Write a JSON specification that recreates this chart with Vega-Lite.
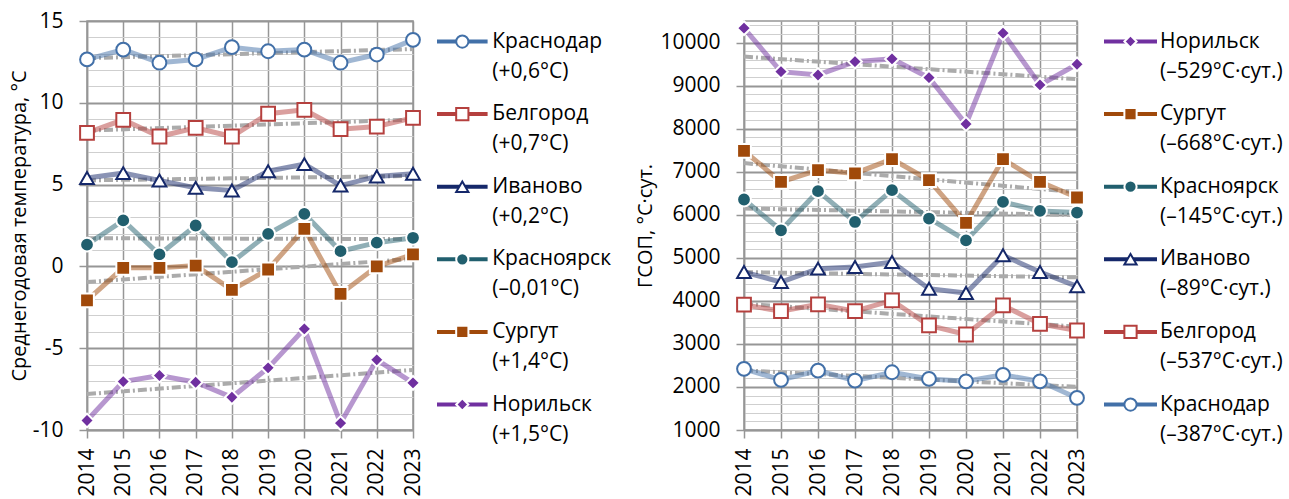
{
  "$schema": "https://vega.github.io/schema/vega-lite/v6.json",
  "padding": {"left": 8, "top": 9, "right": 0, "bottom": 4},
  "autosize": {"type": "pad"},
  "bounds": "flush",
  "spacing": 24,
  "config": {
    "font": "Open Sans",
    "view": {"stroke": "#969696", "strokeWidth": 1.5},
    "axis": {
      "labelFont": "Open Sans",
      "labelFontSize": 21,
      "labelColor": "#000000",
      "titleFont": "Open Sans",
      "titleFontSize": 20,
      "titleFontWeight": "normal",
      "titleColor": "#000000",
      "domainColor": "#969696",
      "domainWidth": 1.5,
      "tickColor": "#969696",
      "tickWidth": 1.5,
      "tickSize": 8
    }
  },
  "datasets": {
    "temp": [
      {"city": "Краснодар", "year": 2014, "value": 12.65}, {"city": "Краснодар", "year": 2015, "value": 13.25},
      {"city": "Краснодар", "year": 2016, "value": 12.45}, {"city": "Краснодар", "year": 2017, "value": 12.65},
      {"city": "Краснодар", "year": 2018, "value": 13.4}, {"city": "Краснодар", "year": 2019, "value": 13.15},
      {"city": "Краснодар", "year": 2020, "value": 13.25}, {"city": "Краснодар", "year": 2021, "value": 12.45},
      {"city": "Краснодар", "year": 2022, "value": 12.95}, {"city": "Краснодар", "year": 2023, "value": 13.85},
      {"city": "Белгород", "year": 2014, "value": 8.16}, {"city": "Белгород", "year": 2015, "value": 8.96},
      {"city": "Белгород", "year": 2016, "value": 7.94}, {"city": "Белгород", "year": 2017, "value": 8.47},
      {"city": "Белгород", "year": 2018, "value": 7.94}, {"city": "Белгород", "year": 2019, "value": 9.33},
      {"city": "Белгород", "year": 2020, "value": 9.57}, {"city": "Белгород", "year": 2021, "value": 8.39},
      {"city": "Белгород", "year": 2022, "value": 8.55}, {"city": "Белгород", "year": 2023, "value": 9.08},
      {"city": "Иваново", "year": 2014, "value": 5.4}, {"city": "Иваново", "year": 2015, "value": 5.7},
      {"city": "Иваново", "year": 2016, "value": 5.25}, {"city": "Иваново", "year": 2017, "value": 4.8},
      {"city": "Иваново", "year": 2018, "value": 4.64}, {"city": "Иваново", "year": 2019, "value": 5.82},
      {"city": "Иваново", "year": 2020, "value": 6.25}, {"city": "Иваново", "year": 2021, "value": 4.94},
      {"city": "Иваново", "year": 2022, "value": 5.5}, {"city": "Иваново", "year": 2023, "value": 5.66},
      {"city": "Красноярск", "year": 2014, "value": 1.33}, {"city": "Красноярск", "year": 2015, "value": 2.81},
      {"city": "Красноярск", "year": 2016, "value": 0.73}, {"city": "Красноярск", "year": 2017, "value": 2.5},
      {"city": "Красноярск", "year": 2018, "value": 0.26}, {"city": "Красноярск", "year": 2019, "value": 1.99},
      {"city": "Красноярск", "year": 2020, "value": 3.21}, {"city": "Красноярск", "year": 2021, "value": 0.93},
      {"city": "Красноярск", "year": 2022, "value": 1.45}, {"city": "Красноярск", "year": 2023, "value": 1.75},
      {"city": "Сургут", "year": 2014, "value": -2.08}, {"city": "Сургут", "year": 2015, "value": -0.09},
      {"city": "Сургут", "year": 2016, "value": -0.09}, {"city": "Сургут", "year": 2017, "value": 0.05},
      {"city": "Сургут", "year": 2018, "value": -1.43}, {"city": "Сургут", "year": 2019, "value": -0.19},
      {"city": "Сургут", "year": 2020, "value": 2.3}, {"city": "Сургут", "year": 2021, "value": -1.68},
      {"city": "Сургут", "year": 2022, "value": 0.0}, {"city": "Сургут", "year": 2023, "value": 0.73},
      {"city": "Норильск", "year": 2014, "value": -9.42}, {"city": "Норильск", "year": 2015, "value": -7.04},
      {"city": "Норильск", "year": 2016, "value": -6.67}, {"city": "Норильск", "year": 2017, "value": -7.08},
      {"city": "Норильск", "year": 2018, "value": -8.0}, {"city": "Норильск", "year": 2019, "value": -6.2},
      {"city": "Норильск", "year": 2020, "value": -3.82}, {"city": "Норильск", "year": 2021, "value": -9.58},
      {"city": "Норильск", "year": 2022, "value": -5.71}, {"city": "Норильск", "year": 2023, "value": -7.12}
    ],
    "hdd": [
      {"city": "Норильск", "year": 2014, "value": 10334}, {"city": "Норильск", "year": 2015, "value": 9324},
      {"city": "Норильск", "year": 2016, "value": 9247}, {"city": "Норильск", "year": 2017, "value": 9557},
      {"city": "Норильск", "year": 2018, "value": 9620}, {"city": "Норильск", "year": 2019, "value": 9184},
      {"city": "Норильск", "year": 2020, "value": 8107}, {"city": "Норильск", "year": 2021, "value": 10218},
      {"city": "Норильск", "year": 2022, "value": 9015}, {"city": "Норильск", "year": 2023, "value": 9496},
      {"city": "Сургут", "year": 2014, "value": 7485}, {"city": "Сургут", "year": 2015, "value": 6764},
      {"city": "Сургут", "year": 2016, "value": 7036}, {"city": "Сургут", "year": 2017, "value": 6959},
      {"city": "Сургут", "year": 2018, "value": 7292}, {"city": "Сургут", "year": 2019, "value": 6803},
      {"city": "Сургут", "year": 2020, "value": 5809}, {"city": "Сургут", "year": 2021, "value": 7292},
      {"city": "Сургут", "year": 2022, "value": 6764}, {"city": "Сургут", "year": 2023, "value": 6400},
      {"city": "Красноярск", "year": 2014, "value": 6354}, {"city": "Красноярск", "year": 2015, "value": 5639},
      {"city": "Красноярск", "year": 2016, "value": 6547}, {"city": "Красноярск", "year": 2017, "value": 5832},
      {"city": "Красноярск", "year": 2018, "value": 6570}, {"city": "Красноярск", "year": 2019, "value": 5912},
      {"city": "Красноярск", "year": 2020, "value": 5406}, {"city": "Красноярск", "year": 2021, "value": 6298},
      {"city": "Красноярск", "year": 2022, "value": 6088}, {"city": "Красноярск", "year": 2023, "value": 6051},
      {"city": "Иваново", "year": 2014, "value": 4669}, {"city": "Иваново", "year": 2015, "value": 4436},
      {"city": "Иваново", "year": 2016, "value": 4748}, {"city": "Иваново", "year": 2017, "value": 4785},
      {"city": "Иваново", "year": 2018, "value": 4901}, {"city": "Иваново", "year": 2019, "value": 4282},
      {"city": "Иваново", "year": 2020, "value": 4180}, {"city": "Иваново", "year": 2021, "value": 5057},
      {"city": "Иваново", "year": 2022, "value": 4669}, {"city": "Иваново", "year": 2023, "value": 4336},
      {"city": "Белгород", "year": 2014, "value": 3910}, {"city": "Белгород", "year": 2015, "value": 3761},
      {"city": "Белгород", "year": 2016, "value": 3917}, {"city": "Белгород", "year": 2017, "value": 3761},
      {"city": "Белгород", "year": 2018, "value": 4010}, {"city": "Белгород", "year": 2019, "value": 3428},
      {"city": "Белгород", "year": 2020, "value": 3218}, {"city": "Белгород", "year": 2021, "value": 3893},
      {"city": "Белгород", "year": 2022, "value": 3467}, {"city": "Белгород", "year": 2023, "value": 3311},
      {"city": "Краснодар", "year": 2014, "value": 2420}, {"city": "Краснодар", "year": 2015, "value": 2164},
      {"city": "Краснодар", "year": 2016, "value": 2380}, {"city": "Краснодар", "year": 2017, "value": 2148},
      {"city": "Краснодар", "year": 2018, "value": 2341}, {"city": "Краснодар", "year": 2019, "value": 2187},
      {"city": "Краснодар", "year": 2020, "value": 2131}, {"city": "Краснодар", "year": 2021, "value": 2280},
      {"city": "Краснодар", "year": 2022, "value": 2131}, {"city": "Краснодар", "year": 2023, "value": 1745}
    ],
    "tempKey": [
      {"city": "Краснодар", "note": "(+0,6°C)"},
      {"city": "Белгород", "note": "(+0,7°C)"},
      {"city": "Иваново", "note": "(+0,2°C)"},
      {"city": "Красноярск", "note": "(–0,01°C)"},
      {"city": "Сургут", "note": "(+1,4°C)"},
      {"city": "Норильск", "note": "(+1,5°C)"}
    ],
    "hddKey": [
      {"city": "Норильск", "note": "(–529°C·сут.)"},
      {"city": "Сургут", "note": "(–668°C·сут.)"},
      {"city": "Красноярск", "note": "(–145°C·сут.)"},
      {"city": "Иваново", "note": "(–89°C·сут.)"},
      {"city": "Белгород", "note": "(–537°C·сут.)"},
      {"city": "Краснодар", "note": "(–387°C·сут.)"}
    ]
  },
  "resolve": {"scale": {"x": "independent", "y": "independent"}},
  "hconcat": [
    {
      "width": 326,
      "height": 409,
      "data": {"name": "temp"},
      "encoding": {
        "x": {
          "field": "year", "type": "quantitative",
          "scale": {"domain": [2014, 2023], "nice": false, "zero": false},
          "axis": {
            "title": null,
            "values": [2014, 2015, 2016, 2017, 2018, 2019, 2020, 2021, 2022, 2023],
            "format": "d", "labelAngle": -90, "labelPadding": 10,
            "grid": true, "gridColor": "#969696", "gridWidth": 1.5
          }
        },
        "y": {
          "field": "value", "type": "quantitative",
          "scale": {"domain": [-10, 15], "nice": false, "zero": false},
          "axis": {
            "title": "Среднегодовая температура, °С",
            "titlePadding": 3,
            "values": [-10, -9, -8, -7, -6, -5, -4, -3, -2, -1, 0, 1, 2, 3, 4, 5, 6, 7, 8, 9, 10, 11, 12, 13, 14, 15],
            "format": "d",
            "labelExpr": "datum.value % 5 == 0 ? replace(datum.label, '−', '-') : ''",
            "labelPadding": 16,
            "grid": true,
            "gridColor": {"condition": {"test": "datum.value % 5 == 0", "value": "#969696"}, "value": "#cfcfcf"},
            "gridWidth": {"condition": {"test": "datum.value % 5 == 0", "value": 2}, "value": 1.2},
            "tickOpacity": {"condition": {"test": "datum.value % 5 == 0", "value": 1}, "value": 0}
          }
        }
      },
      "layer": [
        {
          "transform": [{"regression": "value", "on": "year", "groupby": ["city"]}],
          "mark": {"type": "line", "stroke": "#ababab", "strokeWidth": 4, "strokeDash": [9, 3, 2, 3]},
          "encoding": {"detail": {"field": "city", "type": "nominal"}}
        },
        {
          "mark": {"type": "line", "strokeWidth": 5, "opacity": 0.5},
          "encoding": {
            "color": {"field": "city", "type": "nominal", "legend": null,
              "scale": {"domain": ["Краснодар", "Белгород", "Иваново", "Красноярск", "Сургут", "Норильск"],
                        "range": ["#4270a8", "#b5403e", "#15286a", "#215f6e", "#a0490a", "#7030a0"]}}
          }
        },
        {
          "mark": {"type": "point", "filled": true, "opacity": 1, "size": 190, "strokeWidth": 2},
          "encoding": {
            "shape": {"field": "city", "type": "nominal", "legend": null,
              "scale": {"domain": ["Краснодар", "Белгород", "Иваново", "Красноярск", "Сургут", "Норильск"],
                        "range": ["circle", "square", "triangle-up", "circle", "square", "diamond"]}},
            "fill": {"field": "city", "type": "nominal", "legend": null,
              "scale": {"domain": ["Краснодар", "Белгород", "Иваново", "Красноярск", "Сургут", "Норильск"],
                        "range": ["#ffffff", "#ffffff", "#ffffff", "#215f6e", "#a0490a", "#7030a0"]}},
            "stroke": {"field": "city", "type": "nominal", "legend": null,
              "scale": {"domain": ["Краснодар", "Белгород", "Иваново", "Красноярск", "Сургут", "Норильск"],
                        "range": ["#4270a8", "#b5403e", "#15286a", "#ffffff", "#ffffff", "#ffffff"]}}
          }
        }
      ]
    },
    {
      "width": 283,
      "height": 409,
      "view": {"stroke": null},
      "data": {"name": "tempKey"},
      "encoding": {
        "y": {"field": "city", "type": "nominal", "axis": null,
          "scale": {"type": "point", "domain": ["Краснодар", "Белгород", "Иваново", "Красноярск", "Сургут", "Норильск"], "padding": 0.317, "align": 0.446}}
      },
      "layer": [
        {
          "mark": {"type": "rule", "strokeWidth": 4},
          "encoding": {
            "x": {"datum": 0, "type": "quantitative", "axis": null, "scale": {"domain": [0, 283], "nice": false, "zero": false}},
            "x2": {"datum": 50.6},
            "color": {"field": "city", "type": "nominal", "legend": null}
          }
        },
        {
          "mark": {"type": "point", "filled": true, "opacity": 1, "strokeWidth": 2},
          "encoding": {
            "x": {"datum": 25.3, "type": "quantitative"},
            "shape": {"field": "city", "type": "nominal", "legend": null},
            "fill": {"field": "city", "type": "nominal", "legend": null},
            "stroke": {"field": "city", "type": "nominal", "legend": null},
            "size": {"field": "city", "type": "nominal", "legend": null,
              "scale": {"domain": ["Краснодар", "Белгород", "Иваново", "Красноярск", "Сургут", "Норильск"],
                        "range": [150, 150, 190, 95, 110, 80]}}
          }
        },
        {
          "mark": {"type": "text", "align": "left", "baseline": "middle", "fontSize": 21, "font": "Open Sans", "color": "#000000"},
          "encoding": {"x": {"datum": 55.3, "type": "quantitative"}, "text": {"field": "city"}}
        },
        {
          "mark": {"type": "text", "align": "left", "baseline": "middle", "fontSize": 21, "font": "Open Sans", "color": "#000000", "dy": 30},
          "encoding": {"x": {"datum": 55.3, "type": "quantitative"}, "text": {"field": "note"}}
        }
      ]
    },
    {
      "width": 333,
      "height": 409,
      "data": {"name": "hdd"},
      "encoding": {
        "x": {
          "field": "year", "type": "quantitative",
          "scale": {"domain": [2014, 2023], "nice": false, "zero": false},
          "axis": {
            "title": null,
            "values": [2014, 2015, 2016, 2017, 2018, 2019, 2020, 2021, 2022, 2023],
            "format": "d", "labelAngle": -90, "labelPadding": 10,
            "grid": true, "gridColor": "#969696", "gridWidth": 1.5
          }
        },
        "y": {
          "field": "value", "type": "quantitative",
          "scale": {"domain": [1000, 10500], "nice": false, "zero": false},
          "axis": {
            "title": "ГСОП, °С·сут.",
            "titlePadding": 4,
            "values": [1000, 1200, 1400, 1600, 1800, 2000, 2200, 2400, 2600, 2800, 3000, 3200, 3400, 3600, 3800, 4000, 4200, 4400, 4600, 4800, 5000, 5200, 5400, 5600, 5800, 6000, 6200, 6400, 6600, 6800, 7000, 7200, 7400, 7600, 7800, 8000, 8200, 8400, 8600, 8800, 9000, 9200, 9400, 9600, 9800, 10000, 10200, 10400],
            "format": "d",
            "labelExpr": "datum.value % 1000 == 0 ? datum.label : ''",
            "labelPadding": 16,
            "grid": true,
            "gridColor": {"condition": {"test": "datum.value % 1000 == 0", "value": "#969696"}, "value": "#cfcfcf"},
            "gridWidth": {"condition": {"test": "datum.value % 1000 == 0", "value": 2}, "value": 1.2},
            "tickOpacity": {"condition": {"test": "datum.value % 1000 == 0", "value": 1}, "value": 0}
          }
        }
      },
      "layer": [
        {
          "transform": [{"regression": "value", "on": "year", "groupby": ["city"]}],
          "mark": {"type": "line", "stroke": "#ababab", "strokeWidth": 4, "strokeDash": [9, 3, 2, 3]},
          "encoding": {"detail": {"field": "city", "type": "nominal"}}
        },
        {
          "mark": {"type": "line", "strokeWidth": 5, "opacity": 0.5},
          "encoding": {"color": {"field": "city", "type": "nominal", "legend": null}}
        },
        {
          "mark": {"type": "point", "filled": true, "opacity": 1, "size": 190, "strokeWidth": 2},
          "encoding": {
            "shape": {"field": "city", "type": "nominal", "legend": null},
            "fill": {"field": "city", "type": "nominal", "legend": null},
            "stroke": {"field": "city", "type": "nominal", "legend": null}
          }
        }
      ]
    },
    {
      "width": 170,
      "height": 409,
      "view": {"stroke": null},
      "data": {"name": "hddKey"},
      "encoding": {
        "y": {"field": "city", "type": "nominal", "axis": null,
          "scale": {"type": "point", "domain": ["Норильск", "Сургут", "Красноярск", "Иваново", "Белгород", "Краснодар"], "padding": 0.317, "align": 0.446}}
      },
      "layer": [
        {
          "mark": {"type": "rule", "strokeWidth": 4},
          "encoding": {
            "x": {"datum": 3, "type": "quantitative", "axis": null, "scale": {"domain": [0, 170], "nice": false, "zero": false}},
            "x2": {"datum": 56},
            "color": {"field": "city", "type": "nominal", "legend": null}
          }
        },
        {
          "mark": {"type": "point", "filled": true, "opacity": 1, "strokeWidth": 2},
          "encoding": {
            "x": {"datum": 29.5, "type": "quantitative"},
            "shape": {"field": "city", "type": "nominal", "legend": null},
            "fill": {"field": "city", "type": "nominal", "legend": null},
            "stroke": {"field": "city", "type": "nominal", "legend": null},
            "size": {"field": "city", "type": "nominal", "legend": null}
          }
        },
        {
          "mark": {"type": "text", "align": "left", "baseline": "middle", "fontSize": 21, "font": "Open Sans", "color": "#000000"},
          "encoding": {"x": {"datum": 59, "type": "quantitative"}, "text": {"field": "city"}}
        },
        {
          "mark": {"type": "text", "align": "left", "baseline": "middle", "fontSize": 21, "font": "Open Sans", "color": "#000000", "dy": 30},
          "encoding": {"x": {"datum": 59, "type": "quantitative"}, "text": {"field": "note"}}
        }
      ]
    }
  ]
}
